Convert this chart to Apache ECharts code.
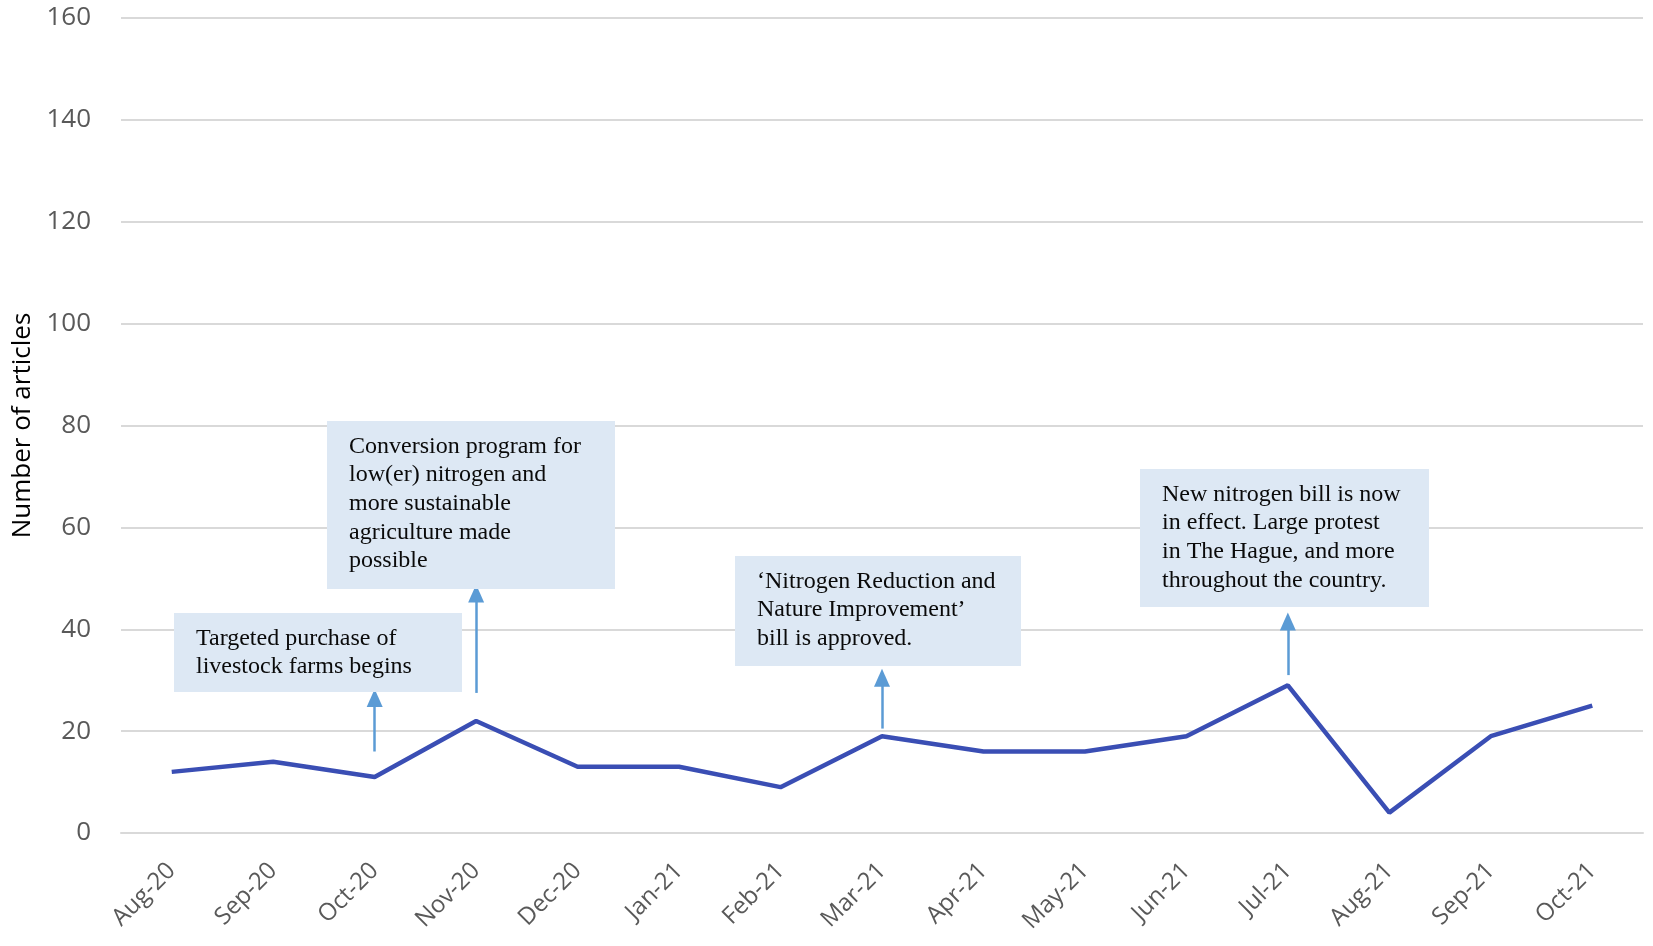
<!DOCTYPE html>
<html><head><meta charset="utf-8">
<script src="https://cdn.jsdelivr.net/npm/echarts@6/dist/echarts.min.js"></script>
<style>html,body{margin:0;padding:0;background:#fff}#c{width:1653px;height:946px}</style>
</head><body><div id="c"></div>
<script>
const categories = ['Aug-20','Sep-20','Oct-20','Nov-20','Dec-20','Jan-21','Feb-21','Mar-21','Apr-21','May-21','Jun-21','Jul-21','Aug-21','Sep-21','Oct-21'];
const articles = [12, 14, 11, 22, 13, 13, 9, 19, 16, 16, 19, 29, 4, 19, 25];
const arrows = [
  ['Oct-20', 16, 26.5],
  ['Nov-20', 27.5, 47],
  ['Mar-21', 20.5, 30.5],
  ['Jul-21', 31, 41.5]
];
const notes = [
  {x:174, y:613, w:288, h:79, lines:['Targeted purchase of','livestock farms begins']},
  {x:327, y:421, w:288, h:168, lines:['Conversion program for','low(er) nitrogen and','more sustainable','agriculture made','possible']},
  {x:735, y:556, w:286, h:110, lines:['\u2018Nitrogen Reduction and','Nature Improvement\u2019','bill is approved.']},
  {x:1140, y:469, w:289, h:138, lines:['New nitrogen bill is now','in effect. Large protest','in The Hague, and more','throughout the country.']}
];
const chart = echarts.init(document.getElementById('c'));
const graphic = [];
notes.forEach(n => {
  graphic.push({type:'rect', shape:{x:n.x, y:n.y, width:n.w, height:n.h}, style:{fill:'#dde8f4'}, z:10});
  graphic.push({type:'text', x:n.x+22, y:n.y+11, z:11,
    style:{text:n.lines.join('\n'), font:'24px "Liberation Serif", serif', fill:'#0a0a0a', lineHeight:28.7}});
});
chart.setOption({
  animation:false,
  grid:{left:121, right:10, top:18, bottom:113, containLabel:false, outerBoundsMode:'none'},
  xAxis:{type:'category', data:categories, boundaryGap:true,
    axisLine:{show:true, lineStyle:{color:'#d9d9d9', width:2}},
    axisTick:{show:false},
    axisLabel:{rotate:45, color:'#595959', fontSize:24, fontFamily:'"Open Sans", sans-serif', margin:34}},
  yAxis:{type:'value', min:0, max:160, interval:20,
    name:'Number of articles', nameLocation:'middle', nameGap:85, nameRotate:90,
    nameTextStyle:{color:'#000', fontSize:26, fontFamily:'"Open Sans", sans-serif'},
    axisLine:{show:false}, axisTick:{show:false},
    axisLabel:{color:'#595959', fontSize:26, fontFamily:'"Open Sans", sans-serif', margin:30},
    splitLine:{lineStyle:{color:'#d9d9d9', width:2}}},
  graphic: graphic,
  series:[{type:'line', data:articles, symbol:'none',
    lineStyle:{color:'#3a4eb4', width:4.5},
    markLine:{silent:true, symbol:['none','triangle'], symbolSize:[16,18],
      label:{show:false},
      lineStyle:{color:'#5b9bd5', width:2.5, type:'solid'},
      data: arrows.map(a => [{coord:[a[0], a[1]]}, {coord:[a[0], a[2]]}])}
  }]
});
</script></body></html>
